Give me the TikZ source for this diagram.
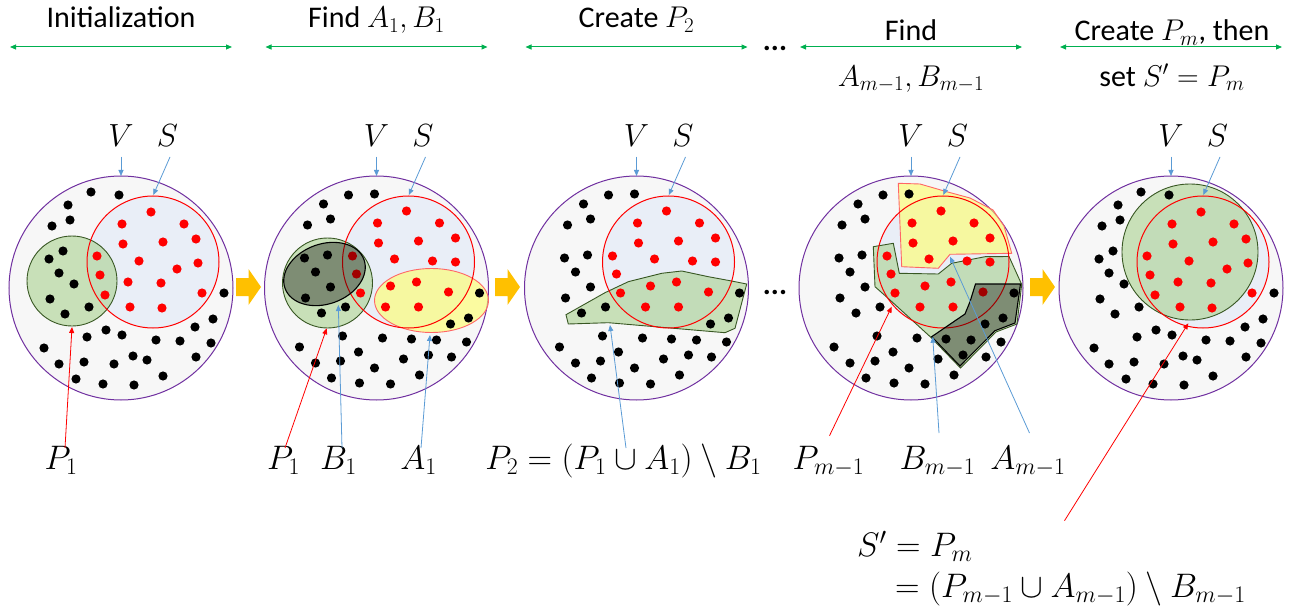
\RequirePackage{fix-cm}
\documentclass[tikz,border=0pt]{standalone}
\usepackage{fontspec}
\setmainfont{Carlito}
\usetikzlibrary{arrows.meta}
\definecolor{vpurple}{HTML}{7030A0}
\definecolor{vfill}{HTML}{F7F7F7}
\definecolor{sfillc}{HTML}{E9EEF7}
\definecolor{pgreen}{HTML}{A9D18E}
\definecolor{pgreenline}{HTML}{385723}
\definecolor{lblue}{HTML}{5B9BD5}
\definecolor{orng}{HTML}{FFC000}
\definecolor{hgreen}{HTML}{00B050}
\definecolor{ayellow}{HTML}{FFFF66}
\tikzset{
  vcirc/.style={draw=vpurple, fill=vfill, line width=1pt},
  sfillst/.style={fill=sfillc},
  scirc/.style={draw=red, line width=1pt},
  greenreg/.style={fill=pgreen, fill opacity=0.6, draw=pgreenline, line width=0.9pt},
  yellowreg/.style={fill=ayellow, fill opacity=0.6, draw=red!60, line width=0.9pt},
  breg/.style={fill=black, fill opacity=0.37, draw=black, line width=1.1pt},
  bdot/.style={fill=black},
  rdot/.style={fill=red},
  bluearr/.style={draw=lblue, line width=0.8pt, -{Triangle[length=6pt,width=5pt]}},
  redarr/.style={draw=red, line width=0.8pt, -{Triangle[length=6pt,width=5pt]}},
  hdrarr/.style={draw=hgreen, line width=1pt, {Triangle[length=6pt,width=5pt]}-{Triangle[length=6pt,width=5pt]}},
  hdr/.style={font=\fontsize{30}{34}\selectfont, inner sep=0pt, anchor=base},
  mlbl/.style={font=\fontsize{32}{36}\selectfont, inner sep=0pt, anchor=base},
  blbl/.style={font=\fontsize{34}{38}\selectfont, inner sep=0pt, anchor=base},
  orarr/.style={fill=orng, draw=none},
}
\newcommand\dotsBlkA{-30/-96,-2/-93,-53/-83,-51/-68,-69/-62,-58/-37,-72/-29,-62/-15,-47/-4,-71/11,-56/26,-32/19,103/5,92/31,74/39,90/55,59/53,35/52,1/47,-15/42,-34/49,-77/60,-62/76,-37/74,-7/76,12/68,26/72,75/69,-45/91,-18/96,13/97,42/88}
\newcommand\dotsBlkB{-28/-93,-2/-94,-53/-84,-46/-69,-69/-63,-72/-30,-49/-33,-61/-16,-46/-1,-71/10,-55/25,-31/19,103/5,92/30,74/36,90/54,60/52,35/51,6/50,-34/48,-77/59,-61/75,-36/73,-18/64,-2/80,27/71,52/67,75/69,-45/90,-17/95,14/96,43/87}
\newcommand\dotsRedA{30/-76,1/-64,63/-64,2/-44,42/-46,75/-49,18/-27,56/-19,77/-25,-24/-32,-21/-13,7/-6,40/-5,-16/7,81/5,9/19,41/20}
\newcommand\dotsRedB{30/-77,1/-65,63/-65,2/-45,42/-47,79/-50,18/-29,56/-27,79/-26,-24/-32,-20/-14,-16/5,14/-2,40/-6,72/4,9/19,42/19}
\newcommand\drawdots[2]{%
  \foreach \x/\y in #1 {\fill[rdot] (\x,\y) circle[radius=4.6pt];}
  \foreach \x/\y in #2 {\fill[bdot] (\x,\y) circle[radius=4.6pt];}
}
\newcommand\panelhead[1]{%
  \node[mlbl] (V#1) at (0,-141) {$V$};
  \node[mlbl] (S#1) at (46.5,-141) {$S$};
  \coordinate (Vs#1) at (0,-131.3);
  \coordinate (Ve#1) at (0,-112);
  \coordinate (Ss#1) at (49,-131);
  \coordinate (Se#1) at (32.3,-93);
  \draw[bluearr] (Vs#1) -- (Ve#1);
  \draw[bluearr] (Ss#1) -- (Se#1);
}
\newcommand\orangearrow[2]{%
  \path[orarr] (#1,278) -- (#1+12.5,278) -- (#1+12.5,269) -- (#1+25,287) -- (#1+12.5,305) -- (#1+12.5,296) -- (#1,296) -- cycle;
  \coordinate (#2) at (#1+12.5,287);
}
\begin{document}
\begin{tikzpicture}[x=1pt,y=-1pt]
\useasboundingbox (0,0) rectangle (1302,607);

% ---------- headers ----------
\node[hdr] (h1) at (121,28) {Initialization};
\node[hdr] (h2) at (376.5,28) {Find $A_1, B_1$};
\node[hdr] (h3) at (636.5,28) {Create $P_2$};
\node[hdr] (h4a) at (911,41) {Find};
\node[hdr] (h4b) at (911,86.5) {$A_{m-1}, B_{m-1}$};
\node[hdr] (h5a) at (1172,41) {Create $P_m$, then};
\node[hdr] (h5b) at (1172,86.5) {set $S' = P_m$};
\node[hdr] (hdots) at (775,51) {\textbf{...}};
\foreach \c/\n in {121/1,376.5/2,636.5/3,911/4,1171/5}{
  \coordinate (al\n) at (\c-111,47);
  \coordinate (ar\n) at (\c+111,47);
  \draw[hdrarr] (al\n) -- (ar\n);
}

% ---------- panel 1 ----------
\begin{scope}[shift={(121,288)}]
  \path[vcirc] (0,0) circle[radius=112pt];
  \fill[sfillst] (32,-26) circle[radius=66pt];
  \path[greenreg] (-49,-7) circle[radius=45pt];
  \draw[scirc] (32,-26) circle[radius=66pt];
  \drawdots{\dotsRedA}{\dotsBlkA}
  \panelhead{1}
\end{scope}

% ---------- panel 2 ----------
\begin{scope}[shift={(376.5,288)}]
  \path[vcirc] (0,0) circle[radius=112pt];
  \fill[sfillst] (32,-26) circle[radius=66pt];
  \path[greenreg] (-49,-5) circle[radius=45pt];
  \path[yellowreg] (55,12.5) ellipse[x radius=57pt, y radius=32pt];
  \draw[scirc] (32,-26) circle[radius=66pt];
  \drawdots{\dotsRedB}{\dotsBlkB}
  \path[breg, rotate around={20:(-52,-14)}] (-52,-14) ellipse[x radius=42pt, y radius=30pt];
  \panelhead{2}
\end{scope}

% ---------- panel 3 ----------
\begin{scope}[shift={(636.5,288)}]
  \path[vcirc] (0,0) circle[radius=112pt];
  \fill[sfillst] (32,-26) circle[radius=66pt];
  \path[greenreg] (-70.5,26.7) -- (-68.2,36) -- (-28.2,34.7) -- (88.5,44.7) -- (98.5,40.3) -- (110.2,-4) -- (93.5,-7.3) -- (71.8,-11.3) -- (45.2,-17) -- (25.2,-14.7) -- (-8.2,-6.3) -- (-31.5,4.7) -- cycle;
  \draw[scirc] (32,-26) circle[radius=66pt];
  \drawdots{\dotsRedB}{\dotsBlkB}
  \panelhead{3}
\end{scope}

% ---------- panel 4 ----------
\begin{scope}[shift={(911,288)}]
  \path[vcirc] (0,0) circle[radius=112pt];
  \fill[sfillst] (32,-26) circle[radius=66pt];
  \path[yellowreg] (-12.7,-104.7) -- (9,-104) -- (35.7,-96.3) -- (59,-90) -- (82,-78) -- (93,-62) -- (97,-48) -- (100.7,-34.7) -- (39,-33.7) -- (27.3,-19.7) -- (-9.3,-21.3) -- cycle;
  \path[greenreg] (-37.7,-41.3) -- (-17.7,-44.7) -- (-11.7,-14.7) -- (27.3,-14) -- (40.7,-24.7) -- (74,-31.3) -- (98,-31.5) -- (110.7,-3.5) -- (106,36) -- (85,44) -- (49.5,80) -- (19.5,49) -- (-21,12) -- (-36,-1.3) -- cycle;
  \draw[scirc] (32,-26) circle[radius=66pt];
  \drawdots{\dotsRedB}{\dotsBlkB}
  \path[breg] (64.5,-4) -- (109.5,-4) -- (104,35) -- (84,42.7) -- (49,78) -- (20.7,48.7) -- (54,26) -- (59,13.7) -- cycle;
  \panelhead{4}
\end{scope}

% ---------- panel 5 ----------
\begin{scope}[shift={(1171,288)}]
  \path[vcirc] (0,0) circle[radius=112pt];
  \fill[sfillst] (32,-26) circle[radius=66pt];
  \path[greenreg] (19,-36) circle[radius=68pt];
  \draw[scirc] (32,-26) circle[radius=66pt];
  \drawdots{\dotsRedA}{\dotsBlkA}
  \panelhead{5}
\end{scope}

% ---------- orange arrows and dots ----------
\orangearrow{236}{o1}
\orangearrow{495}{o2}
\orangearrow{1030}{o3}
\node[hdr] (mdots) at (775,294) {\textbf{...}};

% ---------- bottom labels ----------
\node[blbl] (lP1) at (61,469) {$P_1$};
\node[blbl] (lP1b) at (283.5,469) {$P_1$};
\node[blbl] (lB1) at (338.5,469) {$B_1$};
\node[blbl] (lA1) at (418.5,469) {$A_1$};
\node[blbl] (lP2) at (623.5,469) {$P_2 = (P_1 \cup A_1) \setminus B_1$};
\node[blbl] (lPm) at (828.5,469) {$P_{m-1}$};
\node[blbl] (lBm) at (937.5,469) {$B_{m-1}$};
\node[blbl] (lAm) at (1028,469) {$A_{m-1}$};
\node[blbl, anchor=base west] (lS1) at (857,556.5) {$S' = P_m$};
\node[blbl, anchor=base west] (lS2) at (895,597) {$= (P_{m-1} \cup A_{m-1}) \setminus B_{m-1}$};

% ---------- leader lines ----------
\coordinate (s1) at (65,448);     \coordinate (e1) at (72,327);
\coordinate (s2) at (285,448);    \coordinate (e2) at (326.7,328.3);
\coordinate (s3) at (342,448);    \coordinate (e3) at (338.3,305);
\coordinate (s4) at (421,448);    \coordinate (e4) at (430,335);
\coordinate (s5) at (626,448);    \coordinate (e5) at (610,325);
\coordinate (s6) at (829.5,435.7);\coordinate (e6) at (891.7,306.7);
\coordinate (s7) at (939,433);    \coordinate (e7) at (932.7,336.7);
\coordinate (s8) at (1029.5,433); \coordinate (e8) at (950,256.7);
\coordinate (s9) at (1064.5,520.7);\coordinate (e9) at (1188.3,323.3);
\draw[redarr] (s1) -- (e1);
\draw[redarr] (s2) -- (e2);
\draw[bluearr] (s3) -- (e3);
\draw[bluearr] (s4) -- (e4);
\draw[bluearr] (s5) -- (e5);
\draw[redarr] (s6) -- (e6);
\draw[bluearr] (s7) -- (e7);
\draw[bluearr] (s8) -- (e8);
\draw[redarr] (s9) -- (e9);
\end{tikzpicture}
\end{document}
